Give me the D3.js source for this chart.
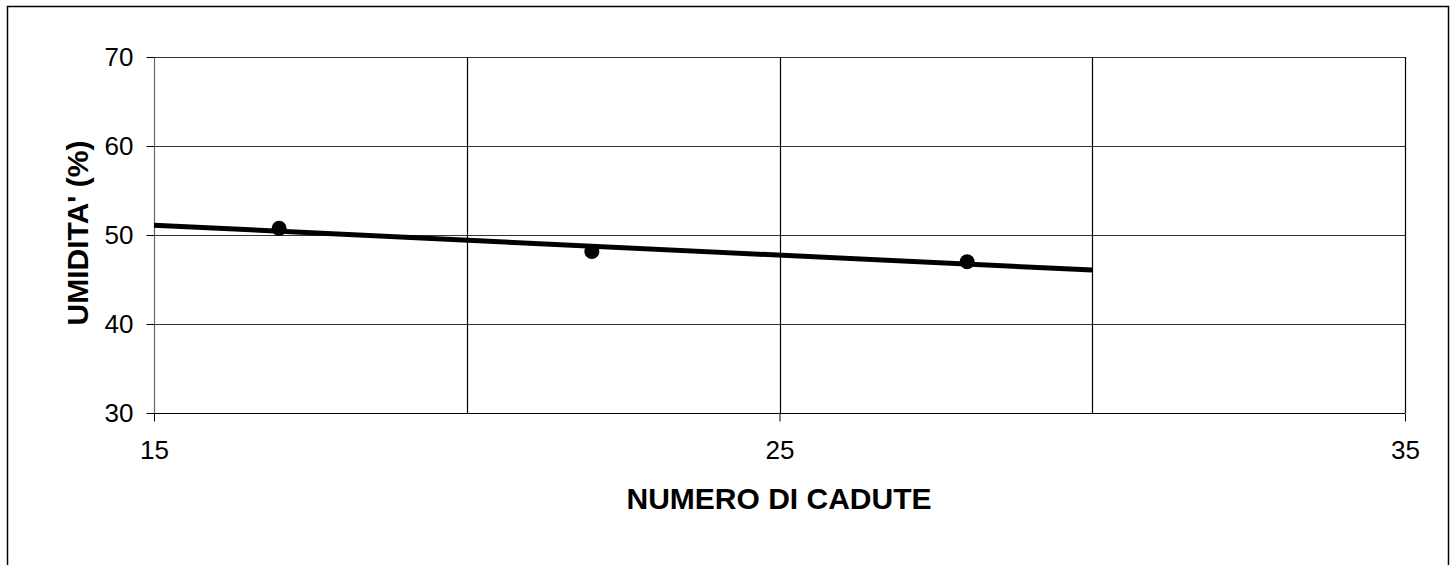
<!DOCTYPE html>
<html>
<head>
<meta charset="utf-8">
<script src="https://cdn.jsdelivr.net/npm/d3@7"></script>
<style>
  body { margin: 0; background: #fff; }
  svg { display: block; font-family: "Liberation Sans", Arial, sans-serif; }
</style>
</head>
<body>
<svg id="chart"></svg>
<script>
// measured points: number of blows vs moisture content
const cadute = [17, 22, 28];
const umidita = [50.75, 48.15, 47.0];
// trend line drawn over this range of blows
const trendRange = [15, 30];

const xTicks = [15, 25, 35];
const xGrid = [15, 20, 25, 30, 35];
const yTicks = [30, 40, 50, 60, 70];

const xLabel = "NUMERO DI CADUTE";
const yLabel = "UMIDITA' (%)";

const W = 1455, H = 565;
const margin = {top: 57, right: 49, bottom: 152, left: 154};
const width = 1405 - margin.left;
const height = 413 - margin.top;

const svg = d3.select("#chart")
    .attr("width", W)
    .attr("height", H);

// outer frame
svg.append("rect")
    .attr("x", 7.5).attr("y", 6.5)
    .attr("width", 1441).attr("height", 570)
    .attr("fill", "none")
    .attr("stroke", "#000")
    .attr("stroke-width", 1.5);

const g = svg.append("g")
    .attr("transform", "translate(" + margin.left + "," + margin.top + ")");

const x = d3.scaleLinear().domain([15, 35]).range([0, width]);
const y = d3.scaleLinear().domain([30, 70]).range([height, 0]);

// grid
g.append("g")
    .selectAll("line")
    .data(yTicks)
    .join("line")
    .attr("x1", 0).attr("x2", width)
    .attr("y1", d => Math.round(y(d)) + 0.5)
    .attr("y2", d => Math.round(y(d)) + 0.5)
    .attr("stroke", d => d === 30 ? "#000" : "#333")
    .attr("stroke-width", 1.2);

g.append("g")
    .selectAll("line")
    .data(xGrid)
    .join("line")
    .attr("x1", d => Math.round(x(d)) + 0.5)
    .attr("x2", d => Math.round(x(d)) + 0.5)
    .attr("y1", 0).attr("y2", height)
    .attr("stroke", d => d === 15 ? "#666" : "#000")
    .attr("stroke-width", 1.2);

// axes
const yAxis = g.append("g")
    .attr("transform", "translate(0.5,0)")
    .call(d3.axisLeft(y).tickValues(yTicks).tickSize(8).tickPadding(13).tickFormat(d3.format("d")));
yAxis.select(".domain").remove();
yAxis.selectAll(".tick line").attr("stroke", "#000");
yAxis.selectAll("text")
    .attr("font-family", "Liberation Sans, Arial, sans-serif")
    .attr("font-size", 26)
    .attr("fill", "#000");

const xAxis = g.append("g")
    .attr("transform", "translate(0," + (height + 0.5) + ")")
    .call(d3.axisBottom(x).tickValues(xTicks).tickSize(8).tickPadding(19).tickFormat(d3.format("d")));
xAxis.select(".domain").remove();
xAxis.selectAll(".tick line").attr("stroke", "#000");
xAxis.selectAll("text")
    .attr("font-family", "Liberation Sans, Arial, sans-serif")
    .attr("font-size", 26)
    .attr("fill", "#000");

// axis titles
svg.append("text")
    .attr("x", 779).attr("y", 509)
    .attr("text-anchor", "middle")
    .attr("font-size", 30)
    .attr("font-weight", "bold")
    .text(xLabel);

svg.append("text")
    .attr("transform", "translate(88,233) rotate(-90)")
    .attr("text-anchor", "middle")
    .attr("font-size", 30)
    .attr("font-weight", "bold")
    .text(yLabel);

// linear least-squares trend through the points
const mx = d3.mean(cadute), my = d3.mean(umidita);
const sxy = d3.sum(cadute, (c, i) => (c - mx) * (umidita[i] - my));
const sxx = d3.sum(cadute, c => (c - mx) * (c - mx));
const slope = sxy / sxx;
const icpt = my - slope * mx;
const trend = trendRange.map(c => ({x: c, y: icpt + slope * c}));

g.append("path")
    .datum(trend)
    .attr("fill", "none")
    .attr("stroke", "#000")
    .attr("stroke-width", 5)
    .attr("d", d3.line().x(d => x(d.x)).y(d => y(d.y)));

g.append("g")
    .selectAll("circle")
    .data(cadute.map((c, i) => ({x: c, y: umidita[i]})))
    .join("circle")
    .attr("cx", d => x(d.x))
    .attr("cy", d => y(d.y))
    .attr("r", 7.5)
    .attr("fill", "#000");
</script>
</body>
</html>
